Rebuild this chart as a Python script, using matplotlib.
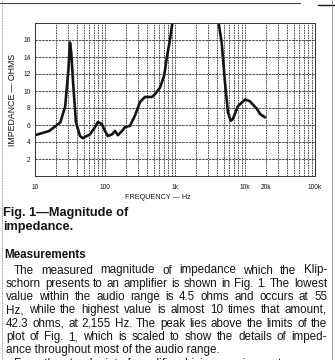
import numpy as np
import matplotlib.pyplot as plt
from matplotlib.ticker import FixedLocator, NullFormatter

# impedance curve (Hz, ohms)
freq = [10, 16, 23, 27, 30, 31.6, 33, 35, 38.5, 44, 48, 61, 72, 79, 90, 100,
        110, 126, 139, 153, 175, 193, 227, 268, 316, 372, 470, 520, 610, 700,
        770, 850, 935, 1200, 1600, 2155, 2800, 3500, 4110, 4640, 5180, 5700,
        6260, 6700, 7900, 10000, 11700, 14800, 16400, 19300]
ohms = [4.8, 5.3, 6.3, 8.2, 12.5, 15.7, 14.5, 11.0, 6.3, 4.7, 4.45, 4.9, 5.75,
        6.35, 6.1, 5.3, 4.7, 4.9, 5.3, 4.8, 5.3, 5.75, 5.9, 7.1, 8.7, 9.3, 9.3,
        9.65, 10.4, 11.8, 14.1, 16.1, 18.5, 26.0, 36.0, 42.3, 36.0, 26.0, 18.5,
        15.7, 11.0, 7.5, 6.5, 6.7, 8.2, 9.0, 8.8, 7.9, 7.3, 6.9]

xtick_pos = [10, 100, 1000, 10000, 20000, 100000]
xtick_lab = ["10", "100", "1k", "10k", "20k", "100k"]
ytick_pos = [2, 4, 6, 8, 10, 12, 14, 16]

caption = ["Fig. 1\u2014Magnitude of", "impedance."]
heading = "Measurements"
body = [
    "The measured magnitude of impedance which the Klip-",
    "schorn presents to an amplifier is shown in Fig. 1. The lowest",
    "value within the audio range is 4.5 ohms and occurs at 55",
    "Hz, while the highest value is almost 10 times that amount,",
    "42.3 ohms, at 2,155 Hz. The peak lies above the limits of the",
    "plot of Fig. 1, which is scaled to show the details of imped-",
    "ance throughout most of the audio range.",
    "From the standpoint of amplifier driving requirements",
]

ink = "#151515"
plt.rcParams["font.family"] = ["Liberation Sans", "DejaVu Sans"]

W, H = 335, 360
fig = plt.figure(figsize=(W / 100, H / 100), dpi=100)

ax = fig.add_axes([35 / W, 1 - 176 / H, 280 / W, 153 / H])
ax.set_xscale("log")
ax.set_xlim(10, 100000)
ax.set_ylim(0, 18)

# dashed log grid like the printed chart paper
minor = [m * 10 ** d for d in range(1, 5) for m in range(2, 10)]
ax.xaxis.set_minor_locator(FixedLocator(minor))
ax.xaxis.set_minor_formatter(NullFormatter())
ax.set_xticks(xtick_pos)
ax.set_xticklabels(xtick_lab)
ax.set_yticks(ytick_pos)
ax.grid(True, which="both", axis="x", color="#333333", lw=0.6, ls=(0, (2, 1)))
ax.grid(True, which="major", axis="y", color="#333333", lw=0.6, ls=(0, (3, 1)))
ax.tick_params(which="both", length=0, labelsize=4.8, colors=ink)
ax.tick_params(axis="x", pad=6)
ax.tick_params(axis="y", pad=3)
for s in ax.spines.values():
    s.set_color("#333333")
    s.set_linewidth(0.7)
    s.set_linestyle((0, (3, 1)))

ax.plot(freq, ohms, color=ink, lw=1.9, solid_capstyle="round")

ax.set_xlabel("FREQUENCY \u2014 Hz", fontsize=5.2, color=ink, labelpad=6)
ax.xaxis.set_label_coords(0.44, -0.12)
ax.set_ylabel("IMPEDANCE \u2014 OHMS", fontsize=6.3, color=ink, labelpad=5)

# caption and article text
for i, t in enumerate(caption):
    fig.text(3 / W, 1 - (213 + 14 * i) / H, t, fontsize=9.2,
             fontweight="bold", color=ink, va="center")
fig.text(4 / W, 1 - 255 / H, heading, fontsize=8.4, fontweight="bold",
         color=ink, va="center")

fig.canvas.draw()
r = fig.canvas.get_renderer()
right = 327
fs = 8.4
for i, line in enumerate(body):
    y = 1 - (270.5 + 13.3 * i) / H
    x0 = 14 if i in (0, 7) else 6
    words = line.split()
    if i in (6, 7):
        fig.text(x0 / W, y, line, fontsize=fs, color=ink, va="center")
        continue
    arts = [fig.text(0, y, w_, fontsize=fs, color=ink, va="center") for w_ in words]
    widths = [a.get_window_extent(r).width for a in arts]
    gap = (right - x0 - sum(widths)) / (len(words) - 1)
    x = x0
    for a, wd in zip(arts, widths):
        a.set_x(x / W)
        x += wd + gap

# page edges from the scan
fig.add_artist(plt.Line2D([0, 300 / W], [1 - 3 / H] * 2, color="#444444", lw=0.8))
fig.add_artist(plt.Line2D([318 / W, 1], [1 - 5 / H] * 2, color=ink, lw=1.0))
fig.add_artist(plt.Line2D([2 / W] * 2, [0, 1], color="#777777", lw=0.6, ls=(0, (1, 1))))
fig.add_artist(plt.Line2D([332 / W] * 2, [0, 1], color="#888888", lw=0.6))

fig.savefig("out.png", dpi=100)
